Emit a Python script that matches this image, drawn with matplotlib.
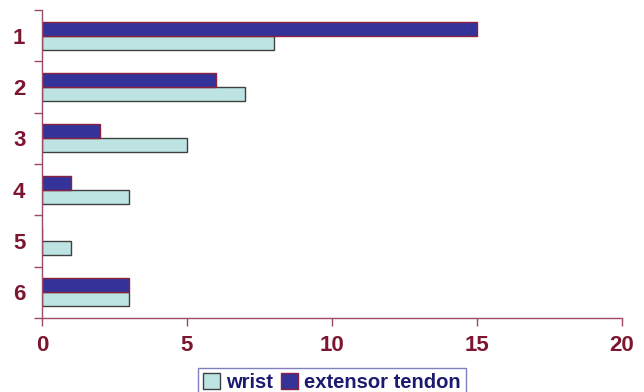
import matplotlib
matplotlib.use("Agg")
import matplotlib.pyplot as plt
import numpy as np

categories = ["1", "2", "3", "4", "5", "6"]
wrist = [8, 7, 5, 3, 1, 3]
extensor = [15, 6, 2, 1, 0, 3]
xticks = [0, 5, 10, 15, 20]

fam = ["Liberation Sans", "DejaVu Sans"]
tick_color = "#7B1530"
spine_color = "#9B4A68"

fig = plt.figure(figsize=(6.44, 3.92), dpi=100)
ax = fig.add_axes([42/644, 1-318/392, (622-42)/644, (318-10)/392])

y = np.arange(len(categories))
h = 0.27
ax.barh(y + h/2, wrist, height=h, color="#BDE3E3", edgecolor="#404040", linewidth=1.0, label="wrist")
ax.barh(y - h/2, extensor, height=h, color="#333399", edgecolor="#8B2040", linewidth=1.0, label="extensor tendon")

ax.set_ylim(len(categories) - 0.5, -0.5)
ax.set_xlim(0, 20)
ax.set_xticks(xticks)
ax.set_xticklabels([str(v) for v in xticks])
ax.set_yticks(np.arange(len(categories) + 1) - 0.5, minor=False)
ax.set_yticklabels([])
ax.set_yticks(y, minor=True)
ax.set_yticklabels(categories, minor=True)
ax.tick_params(axis="y", which="minor", length=0, pad=12, labelsize=16, labelcolor=tick_color)
ax.tick_params(axis="y", which="major", length=6, direction="out", color=spine_color, width=1)
ax.tick_params(axis="x", length=6, direction="out", color=spine_color, width=1, labelsize=16, labelcolor=tick_color, pad=6)
for lab in ax.get_xticklabels() + ax.get_yticklabels(minor=True):
    lab.set_family(fam)
    lab.set_fontweight("bold")

for s in ["top", "right"]:
    ax.spines[s].set_visible(False)
for s in ["left", "bottom"]:
    ax.spines[s].set_color(spine_color)
    ax.spines[s].set_linewidth(1)

leg = ax.legend(loc="upper center", bbox_to_anchor=(0.5, -(368-318)/308), ncol=2, frameon=True,
                prop={"family": fam, "weight": "bold", "size": 14.5},
                handlelength=0.85, handleheight=0.85, handletextpad=0.3, columnspacing=0.4,
                borderpad=0.25, borderaxespad=0, fancybox=False, edgecolor="#6060B0")
leg.get_frame().set_linewidth(1)
for t in leg.get_texts():
    t.set_color("#1A1A6E")

fig.savefig("out.png", dpi=100)
